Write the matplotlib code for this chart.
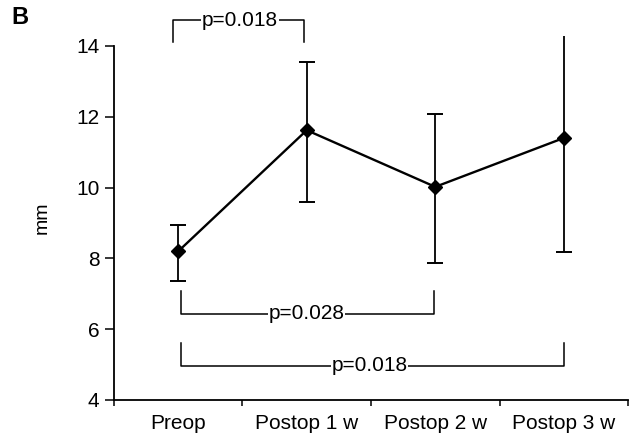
import numpy as np
import matplotlib.pyplot as plt

plt.rcParams["font.family"] = ["Liberation Sans", "DejaVu Sans"]

CATEGORIES = ["Preop", "Postop 1 w", "Postop 2 w", "Postop 3 w"]
MEANS = [8.2, 11.62, 10.02, 11.4]
UPPER = [8.95, 13.56, 12.08, 14.6]
LOWER = [7.36, 9.59, 7.88, 8.19]

# (left x, right x, bar y, leg end y, text x, label)
BRACKETS = [
    (0.96, 1.98, 14.73, 14.11, 1.48, "p=0.018"),
    (1.02, 2.99, 6.43, 7.08, 2.0, "p=0.028"),
    (1.02, 4.00, 4.97, 5.61, 2.49, "p=0.018"),
]

fig = plt.figure(figsize=(6.35, 4.37), dpi=100)
ax = fig.add_axes([0.1795, 0.0847, 0.8095, 0.832])

x = np.arange(1, len(CATEGORIES) + 1)
means = np.array(MEANS)
yerr = [means - np.array(LOWER), np.array(UPPER) - means]

ax.errorbar(x, means, yerr=yerr, fmt="none", ecolor="black",
            elinewidth=1.3, capsize=5.5, capthick=1.4)
ax.plot(x, means, color="black", lw=1.7, marker="D", markersize=7,
        markerfacecolor="black", zorder=3)

for x0, x1, yb, yl, tx, label in BRACKETS:
    ax.plot([x0, x0, x1, x1], [yl, yb, yb, yl], color="black", lw=1.1,
            clip_on=False)
    ax.text(tx, yb, label, ha="center", va="center", fontsize=15,
            bbox=dict(facecolor="white", edgecolor="none", pad=0.5),
            clip_on=False)

ax.set_xlim(0.5, 4.5)
ax.set_ylim(4, 14.27)

ax.spines["top"].set_visible(False)
ax.spines["right"].set_visible(False)
ax.spines["left"].set_bounds(4, 14)
ax.spines["left"].set_linewidth(1.3)
ax.spines["bottom"].set_linewidth(1.3)

ax.set_yticks([4, 6, 8, 10, 12, 14])
ax.tick_params(axis="y", direction="out", length=6.5, width=1.1,
               labelsize=15, pad=4)

ax.set_xticks(np.arange(0.5, 4.6, 1.0))
ax.set_xticklabels([])
ax.tick_params(axis="x", which="major", direction="out", length=4.5, width=1.1)
ax.set_xticks(x, minor=True)
ax.set_xticklabels(CATEGORIES, minor=True)
ax.tick_params(axis="x", which="minor", length=0, labelsize=15, pad=10)

ax.set_ylabel("mm", fontsize=14, labelpad=18)

fig.text(0.018, 0.945, "B", fontsize=17, fontweight="bold")

fig.savefig("out.png", dpi=100)
